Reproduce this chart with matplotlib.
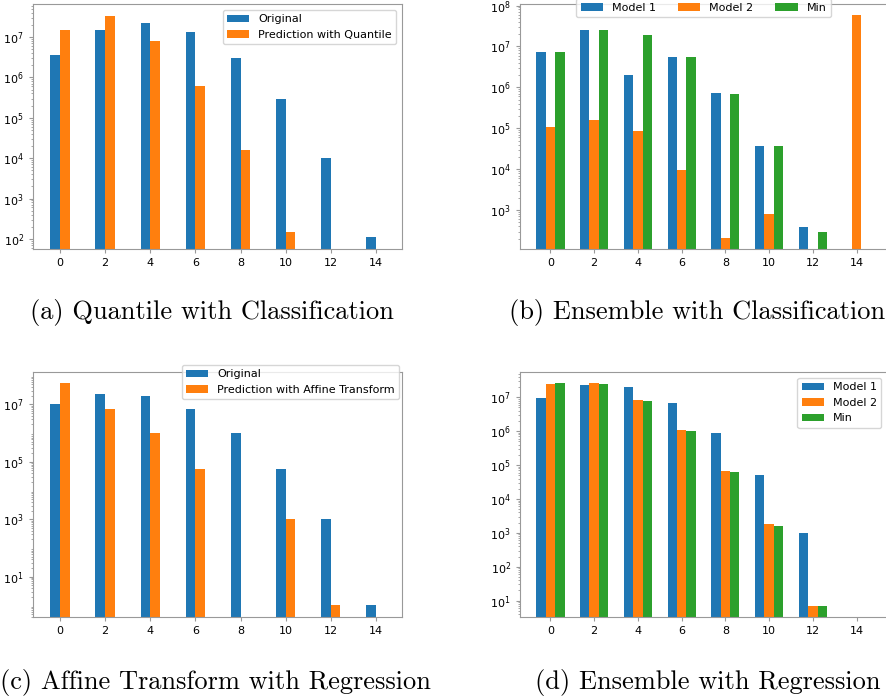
import numpy as np
import matplotlib.pyplot as plt

# bin positions shared by all four panels
bins = [0, 2, 4, 6, 8, 10, 12, 14]

# (a) Quantile with Classification
a_original = [3.5e6, 1.5e7, 2.2e7, 1.3e7, 3.0e6, 2.9e5, 1.0e4, 1.1e2]
a_predict = [1.5e7, 3.4e7, 7.8e6, 6.1e5, 1.6e4, 1.5e2, 0, 0]

# (b) Ensemble with Classification
b_model1 = [7.5e6, 2.55e7, 2.0e6, 5.5e6, 7.2e5, 3.7e4, 3.8e2, 0]
b_model2 = [1.1e5, 1.55e5, 8.7e4, 9.8e3, 2.1e2, 8.0e2, 0, 5.9e7]
b_min = [7.5e6, 2.55e7, 1.93e7, 5.4e6, 7.0e5, 3.7e4, 2.9e2, 0]

# (c) Affine Transform with Regression
c_original = [1.05e7, 2.3e7, 2.0e7, 6.9e6, 1.0e6, 5.5e4, 1.0e3, 1]
c_predict = [5.4e7, 7.0e6, 1.0e6, 5.5e4, 0, 1.0e3, 1, 0]
c_yticks = [1e1, 1e3, 1e5, 1e7]

# (d) Ensemble with Regression
d_model1 = [9.8e6, 2.3e7, 2.0e7, 6.7e6, 9.1e5, 5.2e4, 9.8e2, 0]
d_model2 = [2.5e7, 2.6e7, 8.2e6, 1.1e6, 6.5e4, 1.8e3, 7, 0]
d_min = [2.6e7, 2.5e7, 8.0e6, 1.0e6, 6.2e4, 1.6e3, 7, 0]

captions = ['(a) Quantile with Classification',
            '(b) Ensemble with Classification',
            '(c) Affine Transform with Regression',
            '(d) Ensemble with Regression']

BLUE, ORANGE, GREEN = '#1f77b4', '#ff7f0e', '#2ca02c'
W, H = 886, 700
FS = 8

fig = plt.figure(figsize=(W / 100, H / 100), dpi=100)


def make_axes(x0, y0, x1, y1):
    # pixel box (top-left origin) -> figure fraction
    ax = fig.add_axes([x0 / W, 1 - y1 / H, (x1 - x0) / W, (y1 - y0) / H])
    for s in ax.spines.values():
        s.set_color('#999999')
        s.set_linewidth(0.8)
    ax.set_yscale('log')
    ax.tick_params(labelsize=FS, colors='#999999', labelcolor='black', length=3)
    ax.tick_params(which='minor', colors='#999999', length=1.8)
    ax.set_xticks(bins)
    return ax


x = np.array(bins, dtype=float)

# panel a
ax = make_axes(33, 4.3, 402, 249)
wa = 0.43
ax.bar(x - wa / 2, a_original, wa, color=BLUE, label='Original')
ax.bar(x + wa / 2, a_predict, wa, color=ORANGE, label='Prediction with Quantile')
ax.set_xlim(-1.2, 15.16)
ax.set_ylim(10 ** 1.75, 10 ** 7.81)
ax.legend(loc='upper right', fontsize=FS)

# panel b
ax = make_axes(520, 4.3, 887, 249)
wb = 0.43
ax.bar(x - wb, b_model1, wb, color=BLUE, label='Model 1')
ax.bar(x, b_model2, wb, color=ORANGE, label='Model 2')
ax.bar(x + wb, b_min, wb, color=GREEN, label='Min')
ax.set_xlim(-1.39, 15.39)
ax.set_ylim(10 ** 2.05, 10 ** 8.03)
ax.legend(loc='lower center', bbox_to_anchor=(0.5, 0.947), borderaxespad=0,
          ncol=3, fontsize=FS)

# panel c
ax = make_axes(33, 372.3, 402, 617)
ax.bar(x - wa / 2, c_original, wa, color=BLUE, label='Original')
ax.bar(x + wa / 2, c_predict, wa, color=ORANGE, label='Prediction with Affine Transform')
ax.set_xlim(-1.2, 15.16)
ax.set_ylim(10 ** -0.404, 10 ** 8.115)
ax.set_yticks(c_yticks)
ax.legend(loc='upper right', bbox_to_anchor=(0.993, 1.03), borderaxespad=0, fontsize=FS)

# panel d
ax = make_axes(520, 372.3, 887, 617)
ax.bar(x - wb, d_model1, wb, color=BLUE, label='Model 1')
ax.bar(x, d_model2, wb, color=ORANGE, label='Model 2')
ax.bar(x + wb, d_min, wb, color=GREEN, label='Min')
ax.set_xlim(-1.39, 15.39)
ax.set_ylim(10 ** 0.518, 10 ** 7.737)
ax.legend(loc='upper right', fontsize=FS)

# subfigure captions
cap_pos = [(212, 313), (697, 313), (215, 683), (708, 683)]
for (cx, cy), txt in zip(cap_pos, captions):
    fig.text(cx / W, 1 - cy / H, txt, ha='center', va='center',
             family='cmr10', fontsize=19)

fig.savefig('out.png', dpi=100)
